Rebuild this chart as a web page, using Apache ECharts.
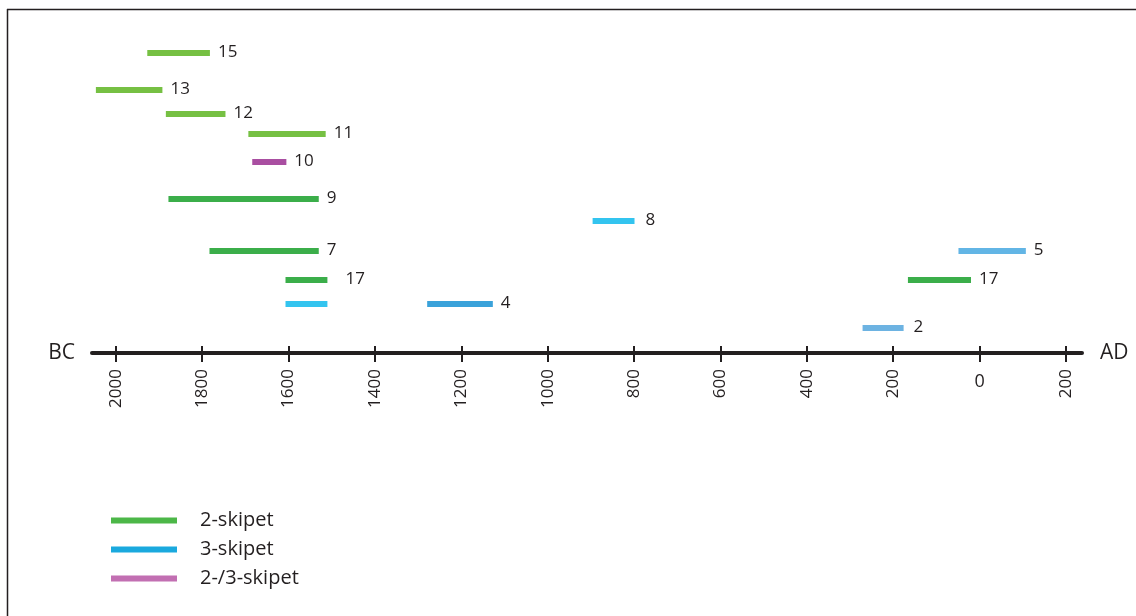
<!DOCTYPE html>
<html>
<head>
<meta charset="utf-8">
<script src="https://cdn.jsdelivr.net/npm/echarts@6/dist/echarts.min.js"></script>
<style>
html,body{margin:0;padding:0;background:#fff;}
#chart{width:1136px;height:616px;}
</style>
</head>
<body>
<div id="chart"></div>
<script>
// ---- data ----
const barLabels = ['15', '13', '12', '11', '10', '9', '8', '7', '17', '', '4', '5', '17', '2'];
const startYear = [-1927, -2046, -1884, -1693, -1684, -1878, -896, -1783, -1607, -1607, -1279, -49, -166, -271];
const endYear   = [-1782, -1892, -1746, -1514, -1605, -1530, -799, -1530, -1510, -1510, -1127, 107, -20, -176];
const rowLevel  = [30, 26.3, 23.9, 21.9, 19.1, 15.4, 13.2, 10.2, 7.3, 4.9, 4.9, 10.2, 7.3, 2.5];
const barGroup  = ['2-skipet', '2-skipet', '2-skipet', '2-skipet', '2-/3-skipet', '2-skipet', '3-skipet', '2-skipet', '2-skipet', '3-skipet', '3-skipet', '3-skipet', '2-skipet', '3-skipet'];
const groups = ['2-skipet', '3-skipet', '2-/3-skipet'];
const tickYears = [-2000, -1800, -1600, -1400, -1200, -1000, -800, -600, -400, -200, 0, 200];

// ---- styles ----
const barColors = ['#76c043', '#76c043', '#76c043', '#76c043', '#a94ea1', '#3bae4a', '#33c4ef', '#3bae4a', '#3bae4a', '#33c4ef', '#3aa2da', '#62b5e5', '#3bae4a', '#6db3e2'];
const groupColors = ['#4cb748', '#1aa9de', '#c26fb2'];
const labelPad = {8: 18, 6: 11, 13: 10};
const ink = '#231f20';
const font = 'Open Sans';

const series = groups.map((g, gi) => ({
  type: 'custom',
  name: g,
  itemStyle: { color: groupColors[gi] },
  encode: { x: [0, 1], y: 2 },
  data: barLabels.map((l, i) => i).filter(i => barGroup[i] === g).map(i => ({
    value: [startYear[i], endYear[i], rowLevel[i], i],
    itemStyle: { color: barColors[i] }
  })),
  renderItem: function (params, api) {
    const idx = api.value(3);
    const s = api.coord([api.value(0), api.value(2)]);
    const e = api.coord([api.value(1), api.value(2)]);
    const h = 6;
    const children = [{
      type: 'rect',
      shape: { x: s[0], y: s[1] - h / 2, width: e[0] - s[0], height: h },
      style: { fill: api.visual('color') }
    }];
    if (barLabels[idx]) {
      children.push({
        type: 'text',
        x: e[0] + (labelPad[idx] || 8),
        y: s[1] - 1,
        style: { text: barLabels[idx], fontSize: 17, fontFamily: font, fill: ink, verticalAlign: 'middle', align: 'left' }
      });
    }
    return { type: 'group', children: children };
  }
}));

const chart = echarts.init(document.getElementById('chart'));
chart.setOption({
  animation: false,
  backgroundColor: '#fff',
  grid: { left: 92, right: 54, top: 33, bottom: 263 },
  legend: {
    data: groups,
    orient: 'vertical',
    left: 111,
    top: 510,
    padding: 0,
    icon: 'rect',
    itemWidth: 66,
    itemHeight: 6,
    itemGap: 8,
    selectedMode: false,
    textStyle: { fontSize: 20, fontFamily: font, color: ink, padding: [0, 0, 0, 18], lineHeight: 21 }
  },
  xAxis: [{
    type: 'value',
    position: 'bottom',
    min: -2055, max: 237,
    name: 'BC', nameLocation: 'start', nameGap: 17,
    nameTextStyle: { fontSize: 21, fontFamily: font, color: ink, verticalAlign: 'middle' },
    axisLine: { show: true, lineStyle: { color: ink, width: 4 } },
    axisTick: { show: true, inside: false, length: 9, customValues: tickYears, lineStyle: { color: ink, width: 2 } },
    axisLabel: {
      show: true, rotate: 90, margin: 16, fontSize: 17, fontFamily: font, color: ink,
      customValues: tickYears.filter(v => v !== 0),
      formatter: v => String(Math.abs(v))
    },
    splitLine: { show: false }
  }, {
    type: 'value',
    position: 'bottom',
    min: -2055, max: 237,
    name: 'AD', nameLocation: 'end', nameGap: 18,
    nameTextStyle: { fontSize: 21, fontFamily: font, color: ink, verticalAlign: 'middle' },
    axisLine: { show: false },
    axisTick: { show: true, inside: true, length: 7, customValues: tickYears, lineStyle: { color: ink, width: 2 } },
    axisLabel: {
      show: true, rotate: 0, margin: 20, fontSize: 18, fontFamily: font, color: ink,
      customValues: [0],
      formatter: v => String(Math.abs(v))
    },
    splitLine: { show: false }
  }],
  yAxis: { type: 'value', min: 0, max: 32, show: false },
  series: series,
  graphic: [
    { type: 'line', shape: { x1: 7, y1: 9.5, x2: 1136, y2: 9.5 }, style: { stroke: ink, lineWidth: 1.5 } },
    { type: 'line', shape: { x1: 7.5, y1: 9, x2: 7.5, y2: 616 }, style: { stroke: ink, lineWidth: 1.5 } }
  ]
});
</script>
</body>
</html>
